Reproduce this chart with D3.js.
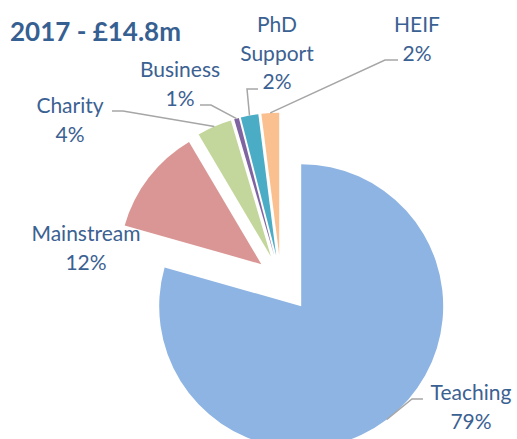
<!DOCTYPE html>
<html>
<head>
<meta charset="utf-8">
<script src="https://cdnjs.cloudflare.com/ajax/libs/d3/7.8.5/d3.min.js"></script>
<style>
  body { margin: 0; background: #fff; }
  text { font-family: Lato, "Noto Sans", sans-serif; }
</style>
</head>
<body>
<div class="canvas_pie"></div>
<script>
// data (percent of £14.8m)
const categories = ["Teaching", "Mainstream", "Charity", "Business", "PhD Support", "HEIF"];
const shares = [79.4, 12.1, 3.95, 0.55, 2.0, 2.0];
const title = "2017 - £14.8m";

const colours = ["#8eb4e3", "#d99694", "#c3d69b", "#8064a2", "#4bacc6", "#fac090"];

const dims = {'width': 517, 'height': 439};
const centre = {'x': 280.7, 'y': 279.1};
const radius = 142;
const textColour = "#3b6192";

// label placement: x centre, first baseline, leader elbow + end
const layout = {
  "Teaching":    {x: 471, y: 400, lines: ["Teaching"], leader: [[412, 399], [423, 399]]},
  "Mainstream":  {x: 86,  y: 241, lines: ["Mainstream"], leader: null},
  "Charity":     {x: 70,  y: 113, lines: ["Charity"], leader: [[123, 111], [112, 111]]},
  "Business":    {x: 180, y: 77,  lines: ["Business"], leader: [[211, 105], [200, 105]]},
  "PhD Support": {x: 277, y: 32,  lines: ["PhD", "Support"], leader: [[247, 89], [258, 89]]},
  "HEIF":        {x: 417, y: 32,  lines: ["HEIF"], leader: [[385, 60], [398, 60]]}
};
const lineGap = 28.7;

const svg = d3.select('.canvas_pie')
  .append('svg')
  .attr('width', dims.width)
  .attr('height', dims.height);

const data = categories.map((c, i) => ({name: c, value: shares[i], colour: colours[i]}));
const total = d3.sum(shares);

const pie = d3.pie().sort(null).value(d => d.value);
const arc = d3.arc().innerRadius(0).outerRadius(radius);
const slices = pie(data);

// how far each slice is pulled out
const explode = d => d.data.name === "Teaching" ? 34 : 24.5;
const mid = d => (d.startAngle + d.endAngle) / 2;
const offset = d => {
  const a = mid(d), e = explode(d);
  return [centre.x + e * Math.sin(a), centre.y - e * Math.cos(a)];
};

const graph = svg.append('g');

graph.selectAll('path')
  .data(slices)
  .enter().append('path')
  .attr('transform', d => `translate(${offset(d)[0]},${offset(d)[1]})`)
  .attr('d', arc)
  .attr('fill', d => d.data.colour);

// leader lines
const line = d3.line();
slices.forEach(d => {
  const lay = layout[d.data.name];
  if (!lay.leader) return;
  const [ox, oy] = offset(d);
  const a = mid(d);
  const start = [ox + radius * Math.sin(a), oy - radius * Math.cos(a)];
  svg.append('path')
    .attr('d', line([start].concat(lay.leader)))
    .attr('fill', 'none')
    .attr('stroke', '#a6a6a6')
    .attr('stroke-width', 1.5);
});

// labels
slices.forEach(d => {
  const lay = layout[d.data.name];
  const pct = Math.round(d.data.value / total * 100) + "%";
  const rows = lay.lines.concat([pct]);
  const t = svg.append('text')
    .attr('text-anchor', 'middle')
    .attr('fill', textColour)
    .attr('font-size', 21);
  rows.forEach((r, i) => {
    t.append('tspan')
      .attr('x', lay.x)
      .attr('y', lay.y + i * lineGap)
      .text(r);
  });
});

svg.append('text')
  .attr('x', 10)
  .attr('y', 41)
  .attr('fill', '#376092')
  .attr('font-size', 26)
  .attr('font-weight', 'bold')
  .text(title);
</script>
</body>
</html>
